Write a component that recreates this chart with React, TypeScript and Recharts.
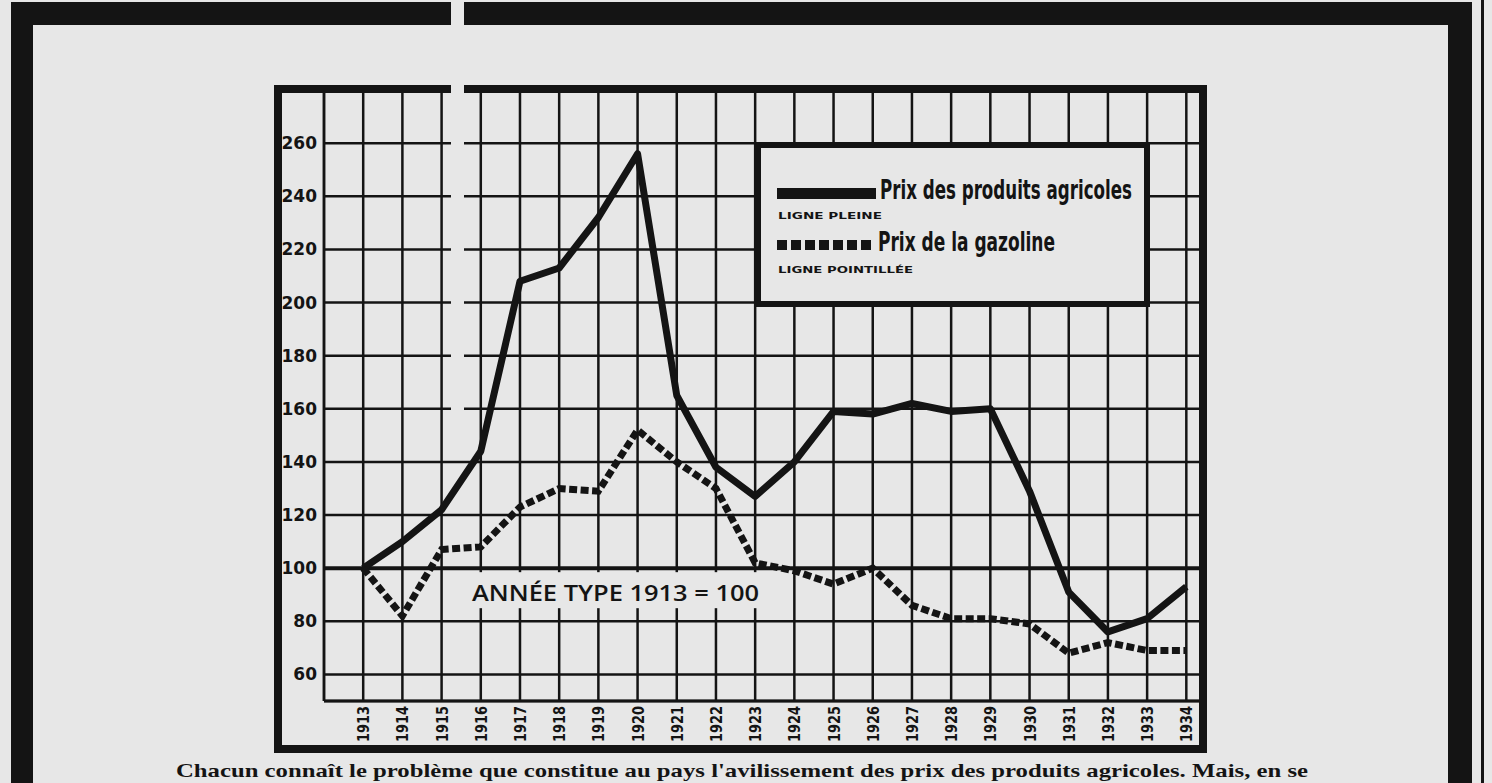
import { LineChart, Line, XAxis, YAxis, CartesianGrid, ReferenceLine, Legend } from 'recharts';

// Indice 1913 = 100
const years = [1913, 1914, 1915, 1916, 1917, 1918, 1919, 1920, 1921, 1922, 1923, 1924, 1925, 1926, 1927, 1928, 1929, 1930, 1931, 1932, 1933, 1934];
const agriculturalPrices = [100, 110, 122, 144, 208, 213, 232, 256, 165, 138, 127, 140, 159, 158, 162, 159, 160, 129, 91, 76, 81, 93];
const gasolinePrices = [100, 82, 107, 108, 123, 130, 129, 152, 140, 130, 102, 99, 94, 100, 86, 81, 81, 79, 68, 72, 69, 69];

const yearTicks = [1912, ...years];
const indexTicks = [60, 80, 100, 120, 140, 160, 180, 200, 220, 240, 260];

const seriesNames = ['Prix des produits agricoles', 'Prix de la gazoline'];
const seriesNotes = ['LIGNE PLEINE', 'LIGNE POINTILLÉE'];
const baseNote = 'ANNÉE TYPE 1913 = 100';
const footText = "Chacun connaît le problème que constitue au pays l'avilissement des prix des produits agricoles. Mais, en se";

const data = years.map((year, i) => ({
  year,
  agricoles: agriculturalPrices[i],
  gazoline: gasolinePrices[i],
}));

const INK = '#141414';
const PAPER = '#e7e7e7';
const NARROW = '"Liberation Sans Narrow", "DejaVu Sans Condensed", "DejaVu Sans", sans-serif';

// rows of the legend box (inner coordinates)
const legendRows = [
  { barTop: 40, textX: 119, base: 51, len: 252, size: 26, noteBase: 71, noteLen: 104 },
  { barTop: 92, textX: 117, base: 103, len: 177, size: 26, noteBase: 125, noteLen: 135 },
];

const LegendBox = ({ payload }: any) => {
  const items = payload ?? [];
  return (
    <div style={{ width: 395, height: 165, boxSizing: 'border-box', border: `6px solid ${INK}`, background: PAPER }}>
      <svg width={383} height={153} overflow="visible">
        {items.map((entry: any) => {
          const i = seriesNames.indexOf(entry.value);
          const row = legendRows[i];
          if (!row) return null;
          const dashed = !!entry.payload?.strokeDasharray;
          return (
            <g key={entry.value}>
              {dashed ? (
                <line x1={16} x2={114} y1={row.barTop + 5} y2={row.barTop + 5} stroke={INK} strokeWidth={10} strokeDasharray="10 4" />
              ) : (
                <rect x={16} y={row.barTop} width={99} height={11} fill={INK} />
              )}
              <text x={row.textX} y={row.base} fontFamily={NARROW} fontWeight={700} fontSize={row.size} fill={INK}
                textLength={row.len} lengthAdjust="spacingAndGlyphs">{entry.value}</text>
              <text x={17} y={row.noteBase} fontFamily='"DejaVu Sans", sans-serif' fontWeight={700} fontSize={8.5} fill={INK}
                textLength={row.noteLen} lengthAdjust="spacingAndGlyphs">{seriesNotes[i]}</text>
            </g>
          );
        })}
      </svg>
    </div>
  );
};

const YearTick = ({ x, y, payload }: any) => {
  if (payload.value === yearTicks[0]) return <g />;
  return (
    <text transform={`translate(${x + 6},${y}) rotate(-90)`} textAnchor="end" fill={INK}
      fontSize={16} fontWeight={700} fontFamily={NARROW} textLength={36} lengthAdjust="spacingAndGlyphs">{payload.value}</text>
  );
};

const BaseLabel = ({ viewBox }: any) => (
  <g>
    <rect x={viewBox.x + 142} y={viewBox.y + 4} width={300} height={36} fill={PAPER} />
    <text x={viewBox.x + 148} y={viewBox.y + 33} fill={INK} fontSize={22} fontWeight={600}
      fontFamily='"Open Sans", "DejaVu Sans", sans-serif' textLength={287} lengthAdjust="spacingAndGlyphs">{baseNote}</text>
  </g>
);

export default function App() {
  return (
    <div style={{ position: 'absolute', left: 0, top: 0, width: 1492, height: 783, background: PAPER, overflow: 'hidden' }}>
      <LineChart width={1492} height={783} data={data} margin={{ top: 90, right: 290, bottom: 0, left: 0 }}>
        <CartesianGrid stroke={INK} strokeWidth={2.5} strokeOpacity={1} />
        <XAxis dataKey="year" type="number" domain={[1912, 1934.4]} ticks={yearTicks} interval={0}
          height={82} tickSize={0} tickMargin={5} tick={<YearTick />}
          axisLine={{ stroke: INK, strokeWidth: 3 }} tickLine={false} />
        <YAxis type="number" domain={[50, 280]} ticks={indexTicks} interval={0} width={324}
          tickSize={0} tickMargin={7} tickLine={false}
          axisLine={{ stroke: INK, strokeWidth: 2.5 }}
          tick={{ fill: INK, fontSize: 17, fontWeight: 700, fontFamily: '"DejaVu Sans", sans-serif' }} />
        <ReferenceLine y={100} stroke={INK} strokeWidth={4} label={<BaseLabel />} />
        <Line type="linear" dataKey="agricoles" name={seriesNames[0]} stroke={INK} strokeWidth={7}
          strokeLinejoin="round" dot={false} isAnimationActive={false} />
        <Line type="linear" dataKey="gazoline" name={seriesNames[1]} stroke={INK} strokeWidth={7}
          strokeDasharray="8 3.5" dot={false} isAnimationActive={false} />
        <Legend layout="horizontal" align="center" verticalAlign="middle" content={<LegendBox />}
          wrapperStyle={{ left: 755, top: 142, width: 395, height: 165 }} />
      </LineChart>

      {/* chart frame */}
      <div style={{ position: 'absolute', left: 274, top: 85, width: 933, height: 668, boxSizing: 'border-box', border: `8px solid ${INK}`, pointerEvents: 'none' }} />

      {/* newspaper page frame */}
      <div style={{ position: 'absolute', left: 11, top: 2, width: 1461, height: 23, background: INK }} />
      <div style={{ position: 'absolute', left: 11, top: 2, width: 22, height: 781, background: INK }} />
      <div style={{ position: 'absolute', left: 1448, top: 2, width: 24, height: 781, background: INK }} />
      <div style={{ position: 'absolute', left: 1481, top: 0, width: 3, height: 783, background: INK }} />

      {/* scan gap */}
      <div style={{ position: 'absolute', left: 451, top: 0, width: 13, height: 415, background: PAPER }} />

      <svg style={{ position: 'absolute', left: 0, top: 0 }} width={1492} height={783}>
        <text x={176} y={777} fill={INK} fontSize={19} fontWeight={700} fontFamily='"Liberation Serif", serif'
          textLength={1132} lengthAdjust="spacingAndGlyphs">{footText}</text>
      </svg>
    </div>
  );
}
